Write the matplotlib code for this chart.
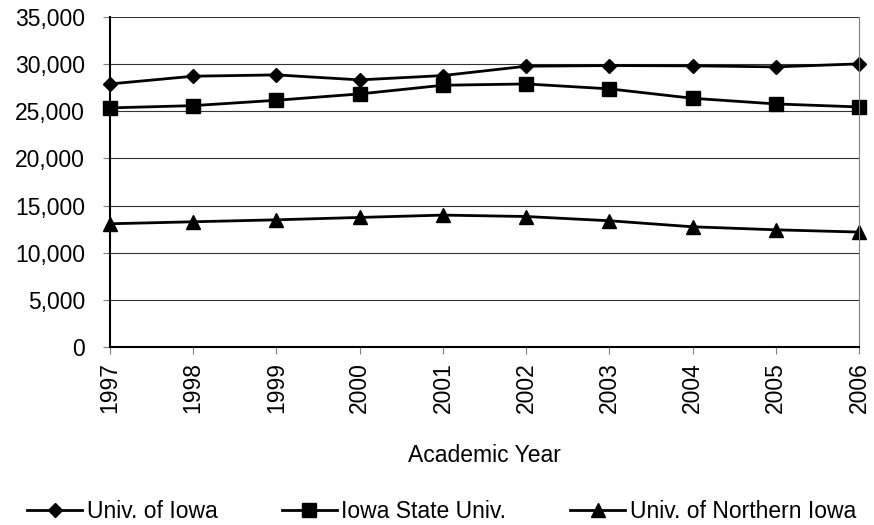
import matplotlib.pyplot as plt
from matplotlib.ticker import FuncFormatter

plt.rcParams['font.family'] = ['Liberation Sans', 'DejaVu Sans']

years = ["1997", "1998", "1999", "2000", "2001", "2002", "2003", "2004", "2005", "2006"]
univ_iowa = [27900, 28720, 28860, 28330, 28790, 29780, 29850, 29820, 29710, 30030]
iowa_state = [25360, 25600, 26170, 26840, 27760, 27900, 27380, 26380, 25780, 25460]
northern_iowa = [13070, 13280, 13490, 13740, 13990, 13840, 13390, 12750, 12430, 12190]

fs = 16.5

fig = plt.figure(figsize=(8.74, 5.25), dpi=100)
ax = fig.add_axes([110 / 874, 1 - 347 / 525, 749 / 874, 330 / 525])

x = range(len(years))
ax.plot(x, univ_iowa, color="black", lw=2, marker="D", ms=7, label="Univ. of Iowa", clip_on=False)
ax.plot(x, iowa_state, color="black", lw=2, marker="s", ms=10, label="Iowa State Univ.", clip_on=False)
ax.plot(x, northern_iowa, color="black", lw=2, marker="^", ms=10, label="Univ. of Northern Iowa", clip_on=False)

ax.set_xlim(0, len(years) - 1)
ax.set_ylim(0, 35000)
ax.set_yticks(range(0, 35001, 5000))
ax.yaxis.set_major_formatter(FuncFormatter(lambda v, p: f"{int(v):,}"))
ax.set_xticks(list(x))
ax.set_xticklabels(years, rotation=90)
ax.tick_params(axis="y", labelsize=fs, length=5, color="gray", pad=13)
ax.tick_params(axis="x", labelsize=fs, length=5, color="gray", pad=6)
ax.grid(axis="y", color="#333333", lw=0.8)
ax.set_axisbelow(True)

ax.spines["top"].set_visible(False)
ax.spines["right"].set_color("gray")
ax.spines["left"].set_linewidth(1.5)
ax.spines["bottom"].set_linewidth(1.5)

ax.set_xlabel("Academic Year", fontsize=fs, labelpad=22)
fig.legend(loc="center left", bbox_to_anchor=(27 / 874, 1 - 512 / 525), ncol=3, frameon=False,
           fontsize=fs, handlelength=2.4, handletextpad=0.2, columnspacing=2.8,
           borderpad=0, borderaxespad=0)

fig.savefig("out.png", dpi=100)
